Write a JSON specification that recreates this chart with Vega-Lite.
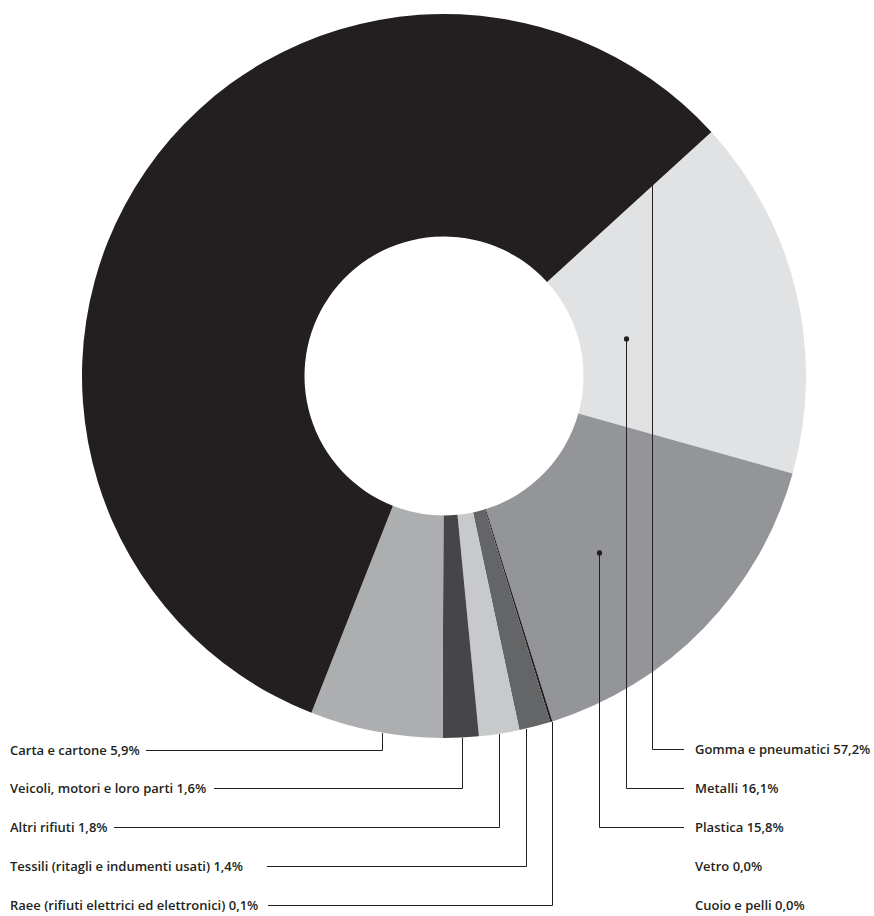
{
  "$schema": "https://vega.github.io/schema/vega-lite/v6.json",
  "width": 874,
  "height": 916,
  "padding": 0,
  "autosize": {"type": "fit", "contains": "padding"},
  "background": "#ffffff",
  "config": {"view": {"stroke": null}},
  "datasets": {
    "slices": [
      {"category": "Metalli", "value": 16.1, "ord": 1},
      {"category": "Plastica", "value": 15.8, "ord": 2},
      {"category": "Vetro", "value": 0.0, "ord": 3},
      {"category": "Cuoio e pelli", "value": 0.0, "ord": 4},
      {"category": "Raee (rifiuti elettrici ed elettronici)", "value": 0.1, "ord": 5},
      {"category": "Tessili (ritagli e indumenti usati)", "value": 1.4, "ord": 6},
      {"category": "Altri rifiuti", "value": 1.8, "ord": 7},
      {"category": "Veicoli, motori e loro parti", "value": 1.6, "ord": 8},
      {"category": "Carta e cartone", "value": 5.9, "ord": 9},
      {"category": "Gomma e pneumatici", "value": 57.2, "ord": 10}
    ],
    "leaders": [
      {"id": "Carta", "seq": 1, "x": 382.5, "y": 733},
      {"id": "Carta", "seq": 2, "x": 382.5, "y": 750.5},
      {"id": "Carta", "seq": 3, "x": 146, "y": 750.5},
      {"id": "Veicoli", "seq": 1, "x": 462.5, "y": 738},
      {"id": "Veicoli", "seq": 2, "x": 462.5, "y": 788.5},
      {"id": "Veicoli", "seq": 3, "x": 214, "y": 788.5},
      {"id": "Altri", "seq": 1, "x": 499.5, "y": 734},
      {"id": "Altri", "seq": 2, "x": 499.5, "y": 827.5},
      {"id": "Altri", "seq": 3, "x": 114, "y": 827.5},
      {"id": "Tessili", "seq": 1, "x": 526.5, "y": 729},
      {"id": "Tessili", "seq": 2, "x": 526.5, "y": 866.5},
      {"id": "Tessili", "seq": 3, "x": 267, "y": 866.5},
      {"id": "Raee", "seq": 1, "x": 552.5, "y": 722},
      {"id": "Raee", "seq": 2, "x": 552.5, "y": 905.5},
      {"id": "Raee", "seq": 3, "x": 268, "y": 905.5},
      {"id": "Gomma", "seq": 1, "x": 652.5, "y": 140},
      {"id": "Gomma", "seq": 2, "x": 652.5, "y": 749.5},
      {"id": "Gomma", "seq": 3, "x": 684, "y": 749.5},
      {"id": "Metalli", "seq": 1, "x": 626.5, "y": 339},
      {"id": "Metalli", "seq": 2, "x": 626.5, "y": 788.5},
      {"id": "Metalli", "seq": 3, "x": 684, "y": 788.5},
      {"id": "Plastica", "seq": 1, "x": 599.5, "y": 553},
      {"id": "Plastica", "seq": 2, "x": 599.5, "y": 827.5},
      {"id": "Plastica", "seq": 3, "x": 684, "y": 827.5}
    ],
    "dots": [
      {"id": "Gomma", "x": 652.5, "y": 140},
      {"id": "Metalli", "x": 626.5, "y": 339},
      {"id": "Plastica", "x": 599.5, "y": 553}
    ],
    "labels": [
      {"text": "Carta e cartone 5,9%", "x": 10, "y": 750},
      {"text": "Veicoli, motori e loro parti 1,6%", "x": 10, "y": 788},
      {"text": "Altri rifiuti 1,8%", "x": 10, "y": 827},
      {"text": "Tessili (ritagli e indumenti usati) 1,4%", "x": 10, "y": 866},
      {"text": "Raee (rifiuti elettrici ed elettronici) 0,1%", "x": 10, "y": 905},
      {"text": "Gomma e pneumatici 57,2%", "x": 695, "y": 749},
      {"text": "Metalli 16,1%", "x": 695, "y": 788},
      {"text": "Plastica 15,8%", "x": 695, "y": 827},
      {"text": "Vetro 0,0%", "x": 695, "y": 866},
      {"text": "Cuoio e pelli 0,0%", "x": 695, "y": 905}
    ]
  },
  "layer": [
    {
      "data": {"name": "slices"},
      "mark": {"type": "arc", "outerRadius": 362, "innerRadius": 139.5, "strokeWidth": 0},
      "encoding": {
        "x": {"datum": 444, "type": "quantitative", "scale": {"domain": [0, 874], "nice": false, "zero": false}, "axis": null},
        "y": {"datum": 376, "type": "quantitative", "scale": {"domain": [0, 916], "nice": false, "zero": false, "reverse": true}, "axis": null},
        "theta": {"field": "value", "type": "quantitative", "stack": true, "scale": {"range": [0.831, 7.1142]}},
        "order": {"field": "ord", "type": "quantitative"},
        "color": {
          "field": "category",
          "type": "nominal",
          "legend": null,
          "scale": {
            "domain": ["Metalli", "Plastica", "Vetro", "Cuoio e pelli", "Raee (rifiuti elettrici ed elettronici)", "Tessili (ritagli e indumenti usati)", "Altri rifiuti", "Veicoli, motori e loro parti", "Carta e cartone", "Gomma e pneumatici"],
            "range": ["#e1e2e3", "#939598", "#bcbec0", "#808285", "#231f20", "#646567", "#c8c9cb", "#464547", "#adaeb0", "#231f20"]
          }
        }
      }
    },
    {
      "data": {"name": "leaders"},
      "mark": {"type": "line", "color": "#231f20", "strokeWidth": 1, "interpolate": "linear"},
      "encoding": {
        "x": {"field": "x", "type": "quantitative", "axis": null},
        "y": {"field": "y", "type": "quantitative", "axis": null},
        "detail": {"field": "id", "type": "nominal"},
        "order": {"field": "seq", "type": "quantitative"}
      }
    },
    {
      "data": {"name": "dots"},
      "mark": {"type": "circle", "color": "#231f20", "opacity": 1, "size": 28},
      "encoding": {
        "x": {"field": "x", "type": "quantitative", "axis": null},
        "y": {"field": "y", "type": "quantitative", "axis": null}
      }
    },
    {
      "data": {"name": "labels"},
      "mark": {"type": "text", "align": "left", "baseline": "middle", "font": "Open Sans", "fontSize": 13, "fontWeight": 600, "color": "#231f20", "dy": 1},
      "encoding": {
        "x": {"field": "x", "type": "quantitative", "axis": null},
        "y": {"field": "y", "type": "quantitative", "axis": null},
        "text": {"field": "text", "type": "nominal"}
      }
    }
  ]
}
